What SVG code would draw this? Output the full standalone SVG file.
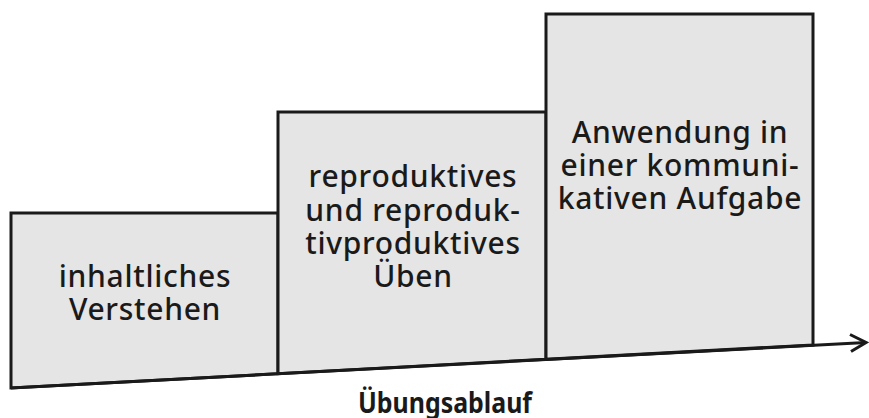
<svg xmlns="http://www.w3.org/2000/svg" width="869" height="418" viewBox="0 0 869 418">
<style>
.box{fill:#e5e5e5;stroke:#1a1a1a;stroke-width:3;stroke-linejoin:miter}
.lbl{font-family:"Noto Sans","Open Sans",sans-serif;font-size:30px;font-weight:500;fill:#1a1a1a;text-anchor:middle;letter-spacing:0.7px}
.title{font-family:"Noto Sans","Open Sans",sans-serif;font-size:28px;font-weight:bold;fill:#1a1a1a;text-anchor:middle}
.conn{fill:none;stroke:#1a1a1a;stroke-width:3}
</style>
<rect width="869" height="418" fill="#ffffff"/>
<g id="node-verstehen">
<polygon class="box" points="11,213 278,213 278,373.7 11,388"/>
<text class="lbl" x="145" y="287">inhaltliches</text>
<text class="lbl" x="145" y="320">Verstehen</text>
</g>
<g id="node-ueben">
<polygon class="box" points="278,112 546,112 546,359.3 278,373.7"/>
<text class="lbl" x="413" y="187">reproduktives</text>
<text class="lbl" x="413" y="221">und reproduk-</text>
<text class="lbl" x="413" y="254">tivproduktives</text>
<text class="lbl" x="413" y="287">Üben</text>
</g>
<g id="node-anwendung">
<polygon class="box" points="546,14 813,14 813,345 546,359.3"/>
<text class="lbl" x="680" y="143">Anwendung in</text>
<text class="lbl" x="680" y="176">einer kommuni-</text>
<text class="lbl" x="680" y="209">kativen Aufgabe</text>
</g>
<g id="connectors">
<line class="conn" x1="11" y1="388" x2="866" y2="342.5"/>
<polyline class="conn" points="850,334.5 866,342.5 851,351.5"/>
</g>
<text class="title" x="445" y="413" textLength="174" lengthAdjust="spacingAndGlyphs">Übungsablauf</text>
</svg>
